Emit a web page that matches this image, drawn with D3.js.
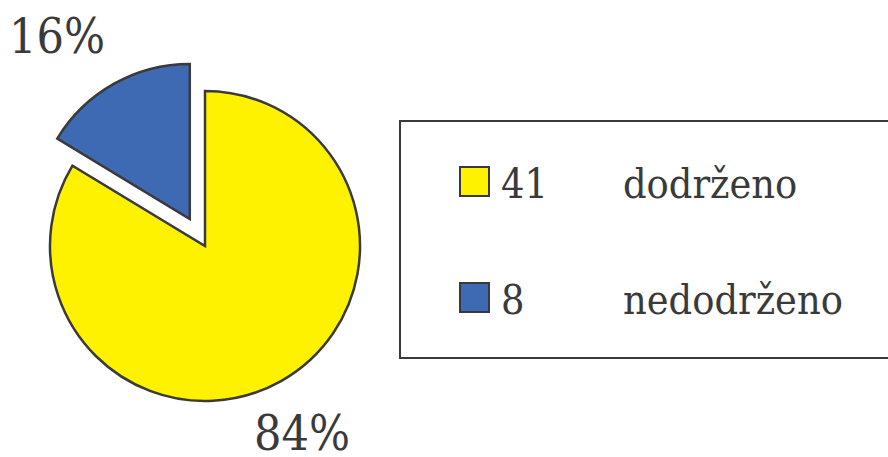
<!DOCTYPE html>
<html>
<head>
<meta charset="utf-8">
<script src="https://cdn.jsdelivr.net/npm/d3@7"></script>
<style>
  body { margin: 0; background: #fff; }
  text { font-stretch: condensed; }
</style>
</head>
<body>
<div id="chart"></div>
<script>
// Data
const labels = ["dodrženo", "nedodrženo"];
const counts = [41, 8];
const percents = ["84%", "16%"];
const colors = ["#FFF200", "#3D6AB2"];

const width = 888, height = 457;
const cx = 205, cy = 246, radius = 155;
const font = "'DejaVu Serif', 'Liberation Serif', serif";

const svg = d3.select("#chart").append("svg")
    .attr("width", width)
    .attr("height", height);

// Pie layout, starting at 12 o'clock going clockwise
const pie = d3.pie().sort(null).value(d => d);
const arcs = pie(counts);
const arc = d3.arc().innerRadius(0).outerRadius(radius);

const g = svg.append("g").attr("transform", `translate(${cx},${cy})`);

// the small slice is pulled out of the pie
const explode = [0, 31];

g.selectAll("path")
    .data(arcs)
    .enter()
    .append("path")
    .attr("d", arc)
    .attr("fill", (d, i) => colors[i])
    .attr("stroke", "#3a3a3a")
    .attr("stroke-width", 2.5)
    .attr("transform", (d, i) => {
        const mid = (d.startAngle + d.endAngle) / 2;
        return `translate(${Math.sin(mid) * explode[i]},${-Math.cos(mid) * explode[i]})`;
    });

// percentage labels
const labelPos = [[302, 450], [57, 53]];
svg.selectAll(".pct")
    .data(percents)
    .enter()
    .append("text")
    .attr("class", "pct")
    .attr("x", (d, i) => labelPos[i][0])
    .attr("y", (d, i) => labelPos[i][1])
    .attr("text-anchor", "middle")
    .attr("font-family", font)
    .attr("font-size", 48)
    .attr("fill", "#3a3a3a")
    .text(d => d);

// Legend
const legend = svg.append("g");
legend.append("rect")
    .attr("x", 400)
    .attr("y", 121)
    .attr("width", 500)
    .attr("height", 237)
    .attr("fill", "none")
    .attr("stroke", "#3a3a3a")
    .attr("stroke-width", 2);

const rows = legend.selectAll(".row")
    .data(labels)
    .enter()
    .append("g")
    .attr("class", "row")
    .attr("transform", (d, i) => `translate(0,${i * 116})`);

rows.append("rect")
    .attr("x", 460)
    .attr("y", 167)
    .attr("width", 29)
    .attr("height", 29)
    .attr("fill", (d, i) => colors[i])
    .attr("stroke", "#3a3a3a")
    .attr("stroke-width", 2);

rows.append("text")
    .attr("x", 501)
    .attr("y", 198)
    .attr("font-family", font)
    .attr("font-size", 41)
    .attr("fill", "#3a3a3a")
    .text((d, i) => counts[i]);

rows.append("text")
    .attr("x", 623)
    .attr("y", 198)
    .attr("font-family", font)
    .attr("font-size", 41)
    .attr("fill", "#3a3a3a")
    .text(d => d);
</script>
</body>
</html>
